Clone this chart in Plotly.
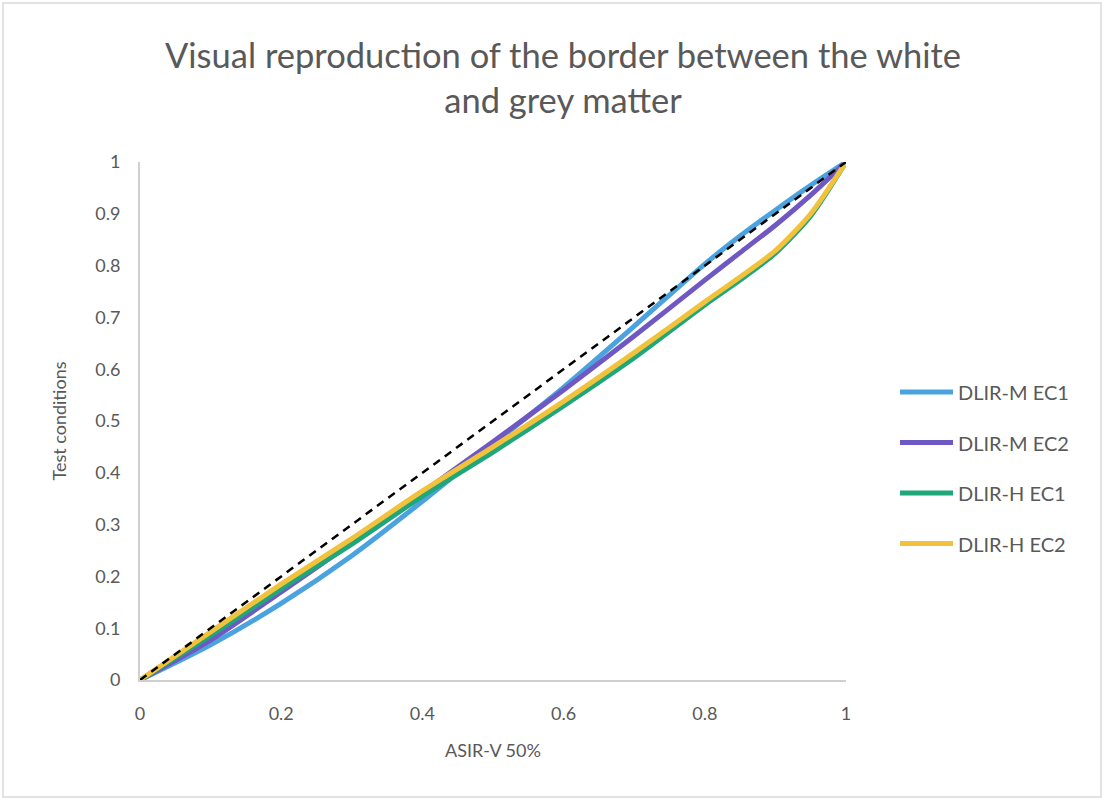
import plotly.graph_objects as go

# ASIR-V 50% reference scores (x) and test-condition scores (y)
asir_v = [0, 0.1, 0.2, 0.3, 0.4, 0.5, 0.6, 0.7, 0.8, 0.85, 0.9, 0.95, 1]

dlir_m_ec1 = [0, 0.068, 0.148, 0.240, 0.345, 0.455, 0.565, 0.683, 0.803, 0.857, 0.907, 0.955, 1]
dlir_m_ec2 = [0, 0.077, 0.170, 0.265, 0.362, 0.460, 0.560, 0.664, 0.772, 0.825, 0.878, 0.936, 1]
dlir_h_ec1 = [0, 0.086, 0.176, 0.262, 0.355, 0.440, 0.529, 0.622, 0.724, 0.772, 0.824, 0.896, 1]
dlir_h_ec2 = [0, 0.093, 0.185, 0.273, 0.365, 0.450, 0.538, 0.632, 0.730, 0.778, 0.829, 0.900, 1]

identity_x = [0, 1]
identity_y = [0, 1]

series_names = ["DLIR-M EC1", "DLIR-M EC2", "DLIR-H EC1", "DLIR-H EC2"]
series_values = [dlir_m_ec1, dlir_m_ec2, dlir_h_ec1, dlir_h_ec2]
series_colors = ["#4aa3df", "#7058c4", "#1fa67a", "#f3c23c"]

x_ticks = [0, 0.2, 0.4, 0.6, 0.8, 1]
x_tick_labels = ["0", "0.2", "0.4", "0.6", "0.8", "1"]
y_ticks = [0, 0.1, 0.2, 0.3, 0.4, 0.5, 0.6, 0.7, 0.8, 0.9, 1]
y_tick_labels = ["0", "0.1", "0.2", "0.3", "0.4", "0.5", "0.6", "0.7", "0.8", "0.9", "1"]

W, H = 1104, 800
L, R, T, B = 140, 258, 162, 120
FONT = "Lato"
GREY = "#595959"

fig = go.Figure()
for name, vals, col in zip(series_names, series_values, series_colors):
    fig.add_trace(go.Scatter(
        x=asir_v, y=vals, name=name, mode="lines",
        line=dict(color=col, width=5, shape="spline", smoothing=0.7),
        cliponaxis=False, showlegend=False,
    ))

# line of identity
fig.add_trace(go.Scatter(
    x=identity_x, y=identity_y, mode="lines", showlegend=False,
    line=dict(color="black", width=2.5, dash="8px,6px"), cliponaxis=False,
))

# helpers: pixel position -> paper coordinates (paper spans the plot area)
pw, ph = W - L - R, H - T - B
def px_x(p):
    return (p - L) / pw
def px_y(p):
    return (H - B - p) / ph

# outer chart border
fig.add_shape(type="rect", xref="paper", yref="paper",
              x0=px_x(3), x1=px_x(W - 3), y0=px_y(H - 3), y1=px_y(3),
              line=dict(color="#d9d9d9", width=1.5), fillcolor="rgba(0,0,0,0)", layer="below")

# legend: swatch line + label per series
legend_top, legend_step = 392, 50.5
for i, (name, col) in enumerate(zip(series_names, series_colors)):
    yc = legend_top + i * legend_step
    fig.add_shape(type="line", xref="paper", yref="paper",
                  x0=px_x(900), x1=px_x(953), y0=px_y(yc), y1=px_y(yc),
                  line=dict(color=col, width=5))
    fig.add_annotation(xref="paper", yref="paper", x=px_x(956), y=px_y(yc),
                       xanchor="left", yanchor="middle", showarrow=False,
                       text=name, font=dict(family=FONT, size=20, color=GREY))

fig.update_layout(
    width=W, height=H,
    margin=dict(l=L, r=R, t=T, b=B),
    paper_bgcolor="white", plot_bgcolor="white",
    font=dict(family=FONT, color=GREY, size=18),
    title=dict(
        text="Visual reproduction of the border between the white<br>and grey matter",
        x=563 / W, xref="container", xanchor="center", y=1 - 68 / H, yanchor="top",
        font=dict(family=FONT, size=34.5, color=GREY),
    ),
    xaxis=dict(
        range=[0, 1], tickvals=x_ticks, ticktext=x_tick_labels,
        showgrid=False, zeroline=False, showline=True, linecolor="#d0d0d0", linewidth=2,
        ticks="", ticklabelstandoff=16,
        title=dict(text="ASIR-V 50%", font=dict(size=18, color=GREY), standoff=22),
    ),
    yaxis=dict(
        range=[0, 1], tickvals=y_ticks, ticktext=y_tick_labels,
        showgrid=False, zeroline=False, showline=True, linecolor="#d0d0d0", linewidth=2,
        ticks="", ticklabelstandoff=14,
        title=dict(text="Test conditions", font=dict(size=18, color=GREY), standoff=24),
    ),
    showlegend=False,
)

fig.write_html("out.html")
